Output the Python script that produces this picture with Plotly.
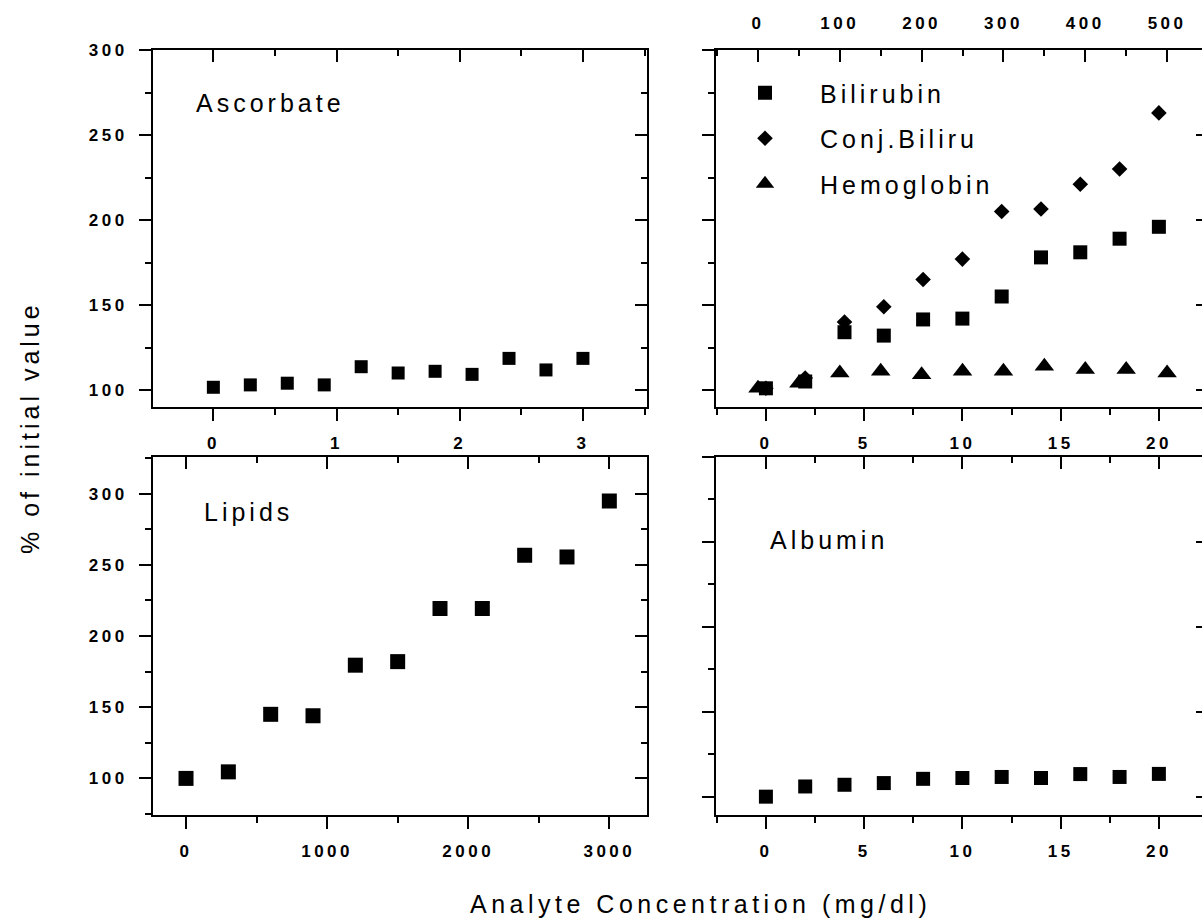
import plotly.graph_objects as go

# ---------------- data ----------------
asc_x = [0, 0.3, 0.6, 0.9, 1.2, 1.5, 1.8, 2.1, 2.4, 2.7, 3.0]
asc_y = [101.6, 103, 104, 103, 113.7, 110, 111, 109.2, 118.6, 111.8, 118.6]

bili_x = [0, 2, 4, 6, 8, 10, 12, 14, 16, 18, 20]
bili_y = [101, 105, 134, 132, 141.5, 142, 155, 178, 181, 189, 196]
conj_y = [101, 107, 140, 149, 165, 177, 205, 206.5, 221, 230, 263]
hemo_x = [0, 50, 100, 150, 200, 250, 300, 350, 400, 450, 500]
hemo_y = [101, 104, 110, 111, 109, 111, 111, 114, 112, 112, 110]

lip_x = [0, 300, 600, 900, 1200, 1500, 1800, 2100, 2400, 2700, 3000]
lip_y = [100, 104.6, 145, 144, 179.5, 182, 219.3, 219.3, 256.7, 255.5, 294.8]

alb_x = [0, 2, 4, 6, 8, 10, 12, 14, 16, 18, 20]
alb_y = [100, 106, 107, 108, 110.5, 111, 111.6, 111, 113.3, 111.6, 113.4]

tl_xticks = [0, 1, 2, 3]
tr_xticks = [0, 5, 10, 15, 20]
tr_top_ticks = [0, 100, 200, 300, 400, 500]
bl_xticks = [0, 1000, 2000, 3000]
top_yticks = [100, 150, 200, 250, 300]
bl_yticks = [100, 150, 200, 250, 300]

FONT = "Liberation Sans"
W, H = 1210, 921   # a bit wider than the window: the right frame is cut off


def sp(t, ls=3):
    return f'<span style="letter-spacing:{ls}px">{t}</span>'


def px_x(p):
    return p / W


def px_y(p):
    return 1 - p / H


def axis(domain, rng, dtick, minor, ticks='outside', labels=None, side=None,
         anchor=None, overlaying=None, showline=True, ticklen=12, minorlen=6,
         standoff=8):
    d = dict(domain=domain, range=rng, showgrid=False, zeroline=False,
             showline=showline, linecolor='black', linewidth=2,
             ticks=ticks, ticklen=ticklen, tickwidth=2, tickcolor='black',
             tickfont=dict(family=FONT, size=17, color='black', weight='bold'),
             fixedrange=True, automargin=False)
    if labels is not None:
        d.update(tickmode='array', tickvals=labels,
                 ticktext=[sp(str(v), 3.5) for v in labels],
                 showticklabels=True, ticklabelstandoff=standoff)
    else:
        d.update(tick0=0, dtick=dtick, showticklabels=False)
    if minor:
        d['minor'] = dict(ticks=ticks, ticklen=minorlen, tickwidth=2,
                          tickcolor='black', dtick=minor, tick0=0)
    if side:
        d['side'] = side
    if anchor:
        d['anchor'] = anchor
    if overlaying:
        d['overlaying'] = overlaying
    return d


# panel frames (pixels)
L_X = [px_x(153), px_x(647)]
R_X = [px_x(716), px_x(1208)]
T_Y = [px_y(407), px_y(50)]
B_Y = [px_y(815), px_y(457)]

tl_xr = [-0.49, 3.52]
tr_xr = [-2.54, 22.5]
tr_topr = [-51.3, 550]
bl_xr = [-234, 3267]
top_yr = [90, 300]
bl_yr = [74.3, 325.7]
br_yr = [89.2, 300]

layout = dict(width=W, height=H, autosize=False,
              margin=dict(l=0, r=0, t=0, b=0, autoexpand=False),
              paper_bgcolor='white', plot_bgcolor='rgba(0,0,0,0)',
              font=dict(family=FONT, color='black'),
              hovermode=False)

# Panel 1: top-left
layout['xaxis'] = axis(L_X, tl_xr, 1, 0.5, labels=tl_xticks, anchor='y')
layout['yaxis'] = axis(T_Y, top_yr, 50, 25, labels=top_yticks, anchor='x')
layout['xaxis5'] = axis(L_X, tl_xr, 1, 0.5, ticks='inside', side='top',
                        anchor='y', overlaying='x')
layout['yaxis5'] = axis(T_Y, top_yr, 50, 25, ticks='inside', side='right',
                        anchor='x', overlaying='y')
# Panel 2: top-right
layout['xaxis2'] = axis(R_X, tr_xr, 5, 2.5, labels=tr_xticks, anchor='y2')
layout['yaxis2'] = axis(T_Y, top_yr, 50, 25, anchor='x2')
layout['xaxis6'] = axis(R_X, tr_topr, 100, 50, ticks='inside', side='top',
                        labels=tr_top_ticks, anchor='y2', overlaying='x2',
                        standoff=12)
layout['yaxis6'] = axis(T_Y, top_yr, 50, 25, ticks='inside', side='right',
                        anchor='x2', overlaying='y2')
# Panel 3: bottom-left
layout['xaxis3'] = axis(L_X, bl_xr, 1000, 500, labels=bl_xticks, anchor='y3')
layout['yaxis3'] = axis(B_Y, bl_yr, 50, 25, labels=bl_yticks, anchor='x3')
layout['xaxis7'] = axis(L_X, bl_xr, 1000, 500, ticks='inside', side='top',
                        anchor='y3', overlaying='x3')
layout['yaxis7'] = axis(B_Y, bl_yr, 50, 25, ticks='inside', side='right',
                        anchor='x3', overlaying='y3')
# Panel 4: bottom-right
layout['xaxis4'] = axis(R_X, tr_xr, 5, 2.5, labels=tr_xticks, anchor='y4')
layout['yaxis4'] = axis(B_Y, br_yr, 50, 25, anchor='x4')
layout['xaxis8'] = axis(R_X, tr_xr, 5, 2.5, ticks='inside', side='top',
                        anchor='y4', overlaying='x4')
layout['yaxis8'] = axis(B_Y, br_yr, 50, 25, ticks='inside', side='right',
                        anchor='x4', overlaying='y4')

fig = go.Figure(layout=layout)

mk = dict(color='black', line=dict(width=0))

fig.add_trace(go.Scatter(x=asc_x, y=asc_y, mode='markers', xaxis='x', yaxis='y',
                         marker=dict(symbol='square', size=13, **mk),
                         showlegend=False))
fig.add_trace(go.Scatter(x=bili_x, y=bili_y, mode='markers', xaxis='x2', yaxis='y2',
                         marker=dict(symbol='square', size=14, **mk),
                         name=sp('Bilirubin', 4), legendgroup='a'))
fig.add_trace(go.Scatter(x=bili_x, y=conj_y, mode='markers', xaxis='x2', yaxis='y2',
                         marker=dict(symbol='diamond', size=12, **mk),
                         name=sp('Conj.Biliru', 4), legendgroup='b'))
fig.add_trace(go.Scatter(x=hemo_x, y=hemo_y, mode='markers', xaxis='x6', yaxis='y2',
                         marker=dict(symbol='triangle-up', size=17, **mk),
                         name=sp('Hemoglobin', 4), legendgroup='c'))
fig.add_trace(go.Scatter(x=lip_x, y=lip_y, mode='markers', xaxis='x3', yaxis='y3',
                         marker=dict(symbol='square', size=15, **mk),
                         showlegend=False))
fig.add_trace(go.Scatter(x=alb_x, y=alb_y, mode='markers', xaxis='x4', yaxis='y4',
                         marker=dict(symbol='square', size=14, **mk),
                         showlegend=False))
# empty traces so the mirrored (secondary) axes are drawn
for i in (5, 6, 7, 8):
    fig.add_trace(go.Scatter(x=[], y=[], xaxis=f'x{i}', yaxis=f'y{i}',
                             mode='markers', showlegend=False))

fig.update_layout(
    showlegend=True,
    legend=dict(x=px_x(710), y=px_y(70), xanchor='left', yanchor='top',
                bgcolor='rgba(0,0,0,0)', borderwidth=0,
                font=dict(family=FONT, size=25, color='black'),
                itemwidth=100, traceorder='grouped', tracegroupgap=10,
                itemclick=False, itemdoubleclick=False),
)

ann = [
    dict(text=sp('Ascorbate', 4), x=px_x(194), y=px_y(103), xanchor='left',
         yanchor='middle'),
    dict(text=sp('Lipids', 4), x=px_x(202), y=px_y(512), xanchor='left',
         yanchor='middle'),
    dict(text=sp('Albumin', 4), x=px_x(768), y=px_y(540), xanchor='left',
         yanchor='middle'),
    dict(text=sp('Analyte Concentration (mg/dl)', 4.5), x=px_x(700),
         y=px_y(904), xanchor='center', yanchor='middle'),
    dict(text=sp('% of initial value', 4), x=px_x(30), y=px_y(428),
         xanchor='center', yanchor='middle', textangle=-90),
]
for a in ann:
    a.update(xref='paper', yref='paper', showarrow=False,
             font=dict(family=FONT, size=25, color='black'))
fig.update_layout(annotations=ann)

post = ("document.body.style.margin='0';"
        "document.body.style.overflow='hidden';"
        "document.documentElement.style.overflow='hidden';")
fig.write_html("out.html", config=dict(displayModeBar=False, staticPlot=True),
               post_script=post)
